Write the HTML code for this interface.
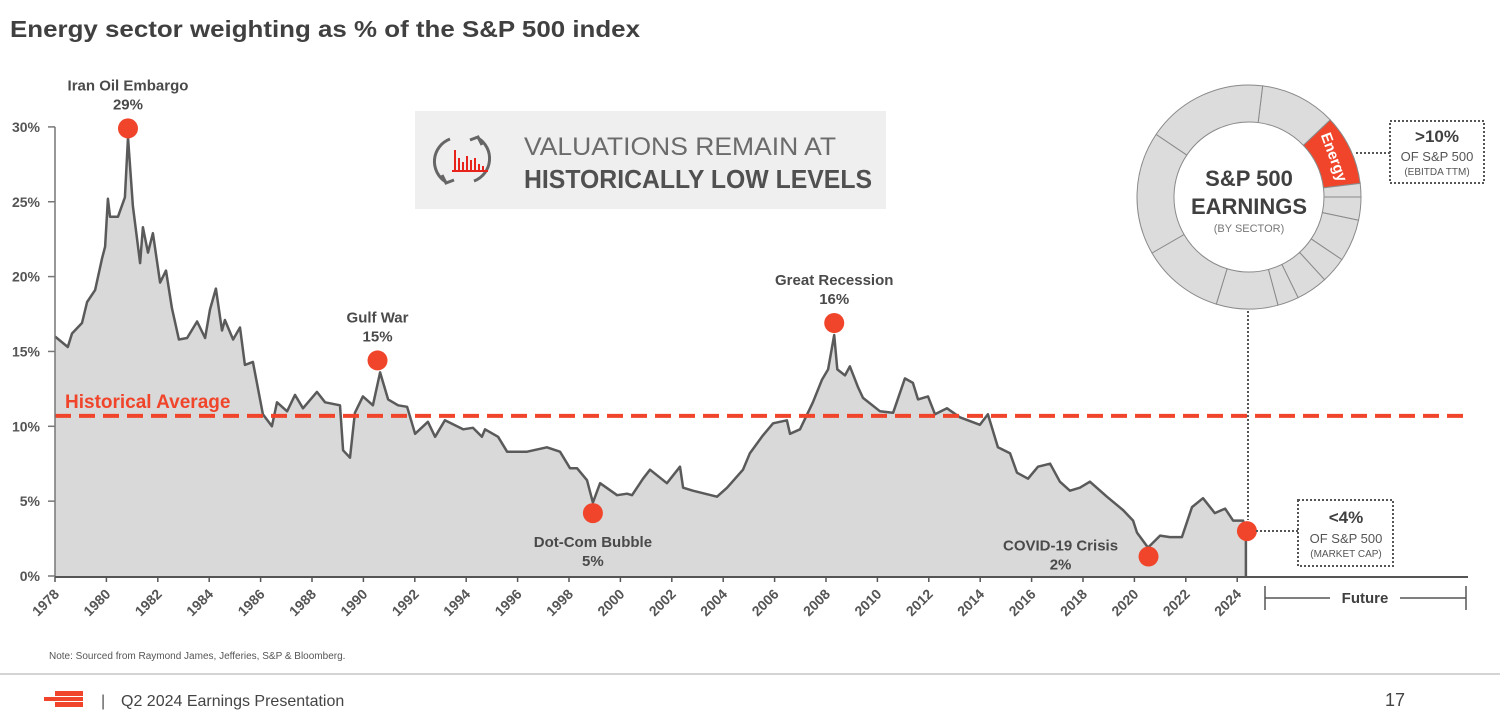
<!DOCTYPE html>
<html><head><meta charset="utf-8"><style>
html,body{margin:0;padding:0;background:#fff;width:1500px;height:712px;overflow:hidden}
svg{display:block;font-family:"Liberation Sans",sans-serif}
</style></head><body>
<svg id="chart" width="1500" height="712" viewBox="0 0 1500 712">
<text x="10" y="37" font-size="23" font-weight="bold" fill="#404040" textLength="630" lengthAdjust="spacingAndGlyphs">Energy sector weighting as % of the S&amp;P 500 index</text>
<g id="plot"></g>
<g id="axes"></g>
<g id="annots"></g>

<g>
<rect x="415" y="111" width="471" height="98" fill="#efefef"/>
<path d="M450 139 A24 24 0 0 0 446 182" fill="none" stroke="#666" stroke-width="3"/>
<path d="M442 175 l4 8 l8 -3" fill="none" stroke="#666" stroke-width="3"/>
<path d="M474 181 A24 24 0 0 0 478 138" fill="none" stroke="#666" stroke-width="3"/>
<path d="M482 145 l-4 -8 l-8 3" fill="none" stroke="#666" stroke-width="3"/>
<g stroke="#e8231c" stroke-width="2"><line x1="452" y1="171" x2="488" y2="171"/><line x1="455" y1="170" x2="455" y2="150"/><line x1="459" y1="170" x2="459" y2="158"/><line x1="463" y1="170" x2="463" y2="162"/><line x1="467" y1="170" x2="467" y2="156"/><line x1="471" y1="170" x2="471" y2="160"/><line x1="475" y1="170" x2="475" y2="158"/><line x1="479" y1="170" x2="479" y2="164"/><line x1="483" y1="170" x2="483" y2="166"/></g>
<text x="524" y="155" font-size="25" fill="#6b6b6b" textLength="312" lengthAdjust="spacingAndGlyphs">VALUATIONS REMAIN AT</text>
<text x="524" y="188" font-size="26" font-weight="bold" fill="#505050" textLength="348" lengthAdjust="spacingAndGlyphs">HISTORICALLY LOW LEVELS</text>
</g>

<g id="donut"></g>
<g text-anchor="middle" fill="#404040">
<text x="1249" y="186" font-size="22" font-weight="bold">S&amp;P 500</text>
<text x="1249" y="214" font-size="22" font-weight="bold">EARNINGS</text>
<text x="1249" y="232" font-size="11" fill="#777">(BY SECTOR)</text>
</g>
<g>
<line x1="1356" y1="153" x2="1390" y2="153" stroke="#555" stroke-width="2" stroke-dasharray="2 2"/>
<rect x="1390" y="121" width="94" height="62" fill="#fff" stroke="#555" stroke-width="2" stroke-dasharray="2 2"/>
<text x="1437" y="142" font-size="17" font-weight="bold" fill="#404040" text-anchor="middle">&gt;10%</text>
<text x="1437" y="161" font-size="13" fill="#555" text-anchor="middle">OF S&amp;P 500</text>
<text x="1437" y="175" font-size="10" fill="#555" text-anchor="middle">(EBITDA TTM)</text>
</g>
<g>
<line x1="1248" y1="311" x2="1248" y2="520" stroke="#555" stroke-width="2" stroke-dasharray="2 2"/>
<line x1="1256" y1="531" x2="1298" y2="531" stroke="#555" stroke-width="2" stroke-dasharray="2 2"/>
<rect x="1298" y="500" width="95" height="66" fill="#fff" stroke="#555" stroke-width="2" stroke-dasharray="2 2"/>
<text x="1346" y="523" font-size="17" font-weight="bold" fill="#404040" text-anchor="middle">&lt;4%</text>
<text x="1346" y="543" font-size="13" fill="#555" text-anchor="middle">OF S&amp;P 500</text>
<text x="1346" y="557" font-size="10" fill="#555" text-anchor="middle">(MARKET CAP)</text>
</g>
<g stroke="#555" stroke-width="1.5">
<line x1="1265" y1="598" x2="1466" y2="598"/><line x1="1265" y1="586" x2="1265" y2="610"/><line x1="1466" y1="586" x2="1466" y2="610"/>
<rect x="1330" y="588" width="70" height="20" fill="#fff" stroke="none"/>
<text x="1365" y="603" font-size="15" font-weight="bold" fill="#404040" stroke="none" text-anchor="middle">Future</text>
</g>
<text x="49" y="659" font-size="10" fill="#555">Note: Sourced from Raymond James, Jefferies, S&amp;P &amp; Bloomberg.</text>
<line x1="0" y1="674" x2="1500" y2="674" stroke="#aaa" stroke-width="1"/>
<g fill="#f0452b"><rect x="55" y="691" width="28" height="5"/><rect x="44" y="697" width="39" height="4"/><rect x="55" y="702" width="28" height="5"/></g>
<text x="101" y="706" font-size="16" fill="#555">|</text>
<text x="121" y="706" font-size="16" fill="#444">Q2 2024 Earnings Presentation</text>
<text x="1385" y="706" font-size="18" fill="#444">17</text>
</svg>
<script>
const years=[1978.0,1978.5,1978.66,1979.05,1979.25,1979.56,1979.83,1979.95,1980.06,1980.14,1980.45,1980.72,1980.84,1981.03,1981.31,1981.42,1981.62,1981.81,1982.09,1982.32,1982.55,1982.82,1983.14,1983.53,1983.84,1984.03,1984.26,1984.5,1984.61,1984.93,1985.2,1985.39,1985.7,1986.09,1986.44,1986.64,1987.03,1987.34,1987.65,1988.19,1988.51,1989.09,1989.21,1989.48,1989.67,1989.98,1990.37,1990.65,1990.96,1991.35,1991.7,1992.01,1992.51,1992.79,1993.17,1993.88,1994.26,1994.61,1994.73,1995.24,1995.59,1996.37,1997.14,1997.65,1998.04,1998.31,1998.7,1998.93,1999.21,1999.87,2000.26,2000.45,2000.88,2001.15,2001.81,2002.32,2002.44,2002.82,2003.76,2004.15,2004.77,2005.04,2005.55,2005.94,2006.48,2006.6,2006.99,2007.49,2007.84,2008.08,2008.32,2008.44,2008.74,2008.93,2009.25,2009.44,2010.1,2010.61,2011.07,2011.38,2011.58,2011.97,2012.24,2012.71,2013.21,2013.99,2014.3,2014.69,2015.16,2015.43,2015.86,2016.25,2016.72,2017.1,2017.49,2017.88,2018.27,2018.93,2019.56,2019.95,2020.1,2020.53,2021.0,2021.38,2021.85,2022.24,2022.67,2023.13,2023.53,2023.84,2024.23,2024.34];
const values=[16.0,15.3,16.2,16.9,18.3,19.1,21.2,22,25.2,24,24,25.3,29.3,24.7,20.9,23.3,21.6,22.9,19.6,20.4,17.9,15.8,15.9,17,15.9,17.8,19.2,16.4,17.1,15.8,16.6,14.1,14.3,10.8,10,11.6,11,12.1,11.2,12.3,11.6,11.4,8.4,7.9,10.9,12,11.4,13.6,11.8,11.4,11.3,9.5,10.3,9.3,10.4,9.8,9.9,9.3,9.8,9.3,8.3,8.3,8.6,8.3,7.2,7.2,6.4,4.9,6.2,5.4,5.5,5.4,6.5,7.1,6.2,7.3,5.9,5.7,5.3,5.9,7.1,8.2,9.4,10.2,10.4,9.5,9.8,11.6,13.1,13.8,16.1,13.8,13.4,14,12.6,11.9,11,10.9,13.2,12.9,11.8,12,10.8,11.2,10.6,10.1,10.8,8.6,8.2,6.9,6.5,7.3,7.5,6.3,5.7,5.9,6.3,5.3,4.4,3.7,2.9,1.9,2.7,2.6,2.6,4.6,5.2,4.2,4.5,3.7,3.7,3.0];
const yTicks=[0,5,10,15,20,25,30];
const xTicks=[1978,1980,1982,1984,1986,1988,1990,1992,1994,1996,1998,2000,2002,2004,2006,2008,2010,2012,2014,2016,2018,2020,2022,2024];
const historicalAverage=10.7;
const eventNames=["Iran Oil Embargo","Gulf War","Dot-Com Bubble","Great Recession","COVID-19 Crisis"];
const eventLabels=["29%","15%","5%","16%","2%"];
const eventYears=[1980.84,1990.55,1998.93,2008.32,2020.55];
const eventValues=[29.9,14.4,4.2,16.9,1.3];
const eventAbove=[true,true,false,true,false];
const sectorBounds=[7,46.5,83,90,102,124,137.6,154,165,197,240,304];
const energyIndex=1;

const NS="http://www.w3.org/2000/svg";
const X0=55,X1=1468,Y0=576;
function xs(yr){return 55+(yr-1978)*25.7;}
function ys(v){return Y0-v*14.97;}
function mk(tag,attrs,parent){const e=document.createElementNS(NS,tag);for(const k in attrs)e.setAttribute(k,attrs[k]);parent.appendChild(e);return e;}
const plot=document.getElementById('plot'),axes=document.getElementById('axes'),ann=document.getElementById('annots');

let pts=years.map((y,i)=>xs(y).toFixed(1)+","+ys(values[i]).toFixed(1));
const lastX=xs(years[years.length-1]).toFixed(1);
const area=mk('path',{d:"M"+xs(years[0])+","+Y0+" L"+pts.join(" L")+" L"+lastX+","+Y0+" Z",fill:"#d9d9d9"},plot);


const line=mk('path',{d:"M"+pts.join(" L")+" L"+lastX+","+Y0,fill:"none",stroke:"#5a5a5a","stroke-width":2.5,"stroke-linejoin":"round"},plot);



const avg=mk('line',{x1:X0,x2:X1,y1:ys(historicalAverage),y2:ys(historicalAverage),stroke:"#f0452b","stroke-width":4,"stroke-dasharray":"16 8"},plot);


const avgT=mk('text',{x:65,y:ys(historicalAverage)-8,"font-size":19,"font-weight":"bold",fill:"#f0452b"},plot);
avgT.textContent="Historical Average";



mk('line',{x1:X0,x2:X0,y1:ys(30),y2:Y0+1,stroke:"#777","stroke-width":1.5},axes);
mk('line',{x1:X0,x2:X1,y1:Y0+1,y2:Y0+1,stroke:"#555","stroke-width":2},axes);
yTicks.forEach(v=>{
  mk('line',{x1:X0-7,x2:X0,y1:ys(v),y2:ys(v),stroke:"#777","stroke-width":1.5},axes);
  const t=mk('text',{x:40,y:ys(v)+5,"font-size":14,"font-weight":"bold",fill:"#555","text-anchor":"end"},axes);
  t.textContent=v+"%";
  
  
});
xTicks.forEach(yr=>{
  const x=xs(yr);
  mk('line',{x1:x,x2:x,y1:Y0+1,y2:Y0+6,stroke:"#555","stroke-width":1.5},axes);
  const t=mk('text',{x:x+5,y:Y0+19,"font-size":14,"font-weight":"bold",fill:"#555","text-anchor":"end",transform:"rotate(-45 "+(x+5)+" "+(Y0+19)+")"},axes);
  t.textContent=yr;
  
  
});

eventNames.forEach((n,i)=>{
  const cx=xs(eventYears[i]),cy=ys(eventValues[i]);
  const c=mk('circle',{cx:cx,cy:cy,r:10,fill:"#f0452b"},ann);
  
  
  const isLast=i===eventNames.length-1;
  const lx=isLast?cx-88:cx;
  const ty1=isLast?cy-6:(eventAbove[i]?cy-38:cy+34), ty2=ty1+19;
  const t1=mk('text',{x:lx,y:ty1,"font-size":15,"font-weight":"bold",fill:"#4a4a4a","text-anchor":"middle"},ann);
  t1.textContent=n;
  
  
  const t2=mk('text',{x:lx,y:ty2,"font-size":15,"font-weight":"bold",fill:"#4a4a4a","text-anchor":"middle"},ann);
  t2.textContent=eventLabels[i];
  
  
});
const endDot=mk('circle',{cx:xs(years[years.length-1])+1,cy:ys(values[values.length-1]),r:10,fill:"#f0452b"},ann);



const donut=document.getElementById('donut');
const CX=1249,CY=197,R=112,r=75;
function pt(a,rad){const t=a*Math.PI/180;return [CX+rad*Math.sin(t),CY-rad*Math.cos(t)];}
sectorBounds.forEach((a0,i)=>{
  let a1=sectorBounds[(i+1)%sectorBounds.length]; if(a1<=a0)a1+=360;
  const p1=pt(a0,R),p2=pt(a1,R),p3=pt(a1,r),p4=pt(a0,r),lg=(a1-a0)>180?1:0;
  const seg=mk('path',{d:`M${p1} A${R} ${R} 0 ${lg} 1 ${p2} L${p3} A${r} ${r} 0 ${lg} 0 ${p4} Z`,fill:i===energyIndex?"#f0452b":"#dcdcdc",stroke:"#8a8a8a","stroke-width":1},donut);
  
  
});
const mid=(sectorBounds[energyIndex]+sectorBounds[energyIndex+1])/2,mp=pt(mid,93);
const et=mk('text',{x:mp[0],y:mp[1],"font-size":15,"font-weight":"bold",fill:"#fff","text-anchor":"middle","dominant-baseline":"middle",transform:`rotate(${mid+5} ${mp[0]} ${mp[1]})`},donut);
et.textContent="Energy";


</script>
</body></html>
